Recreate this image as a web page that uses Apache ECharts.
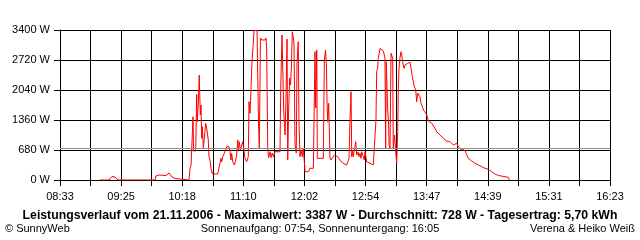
<!DOCTYPE html>
<html><head><meta charset="utf-8">
<script src="https://cdn.jsdelivr.net/npm/echarts@6/dist/echarts.min.js"></script>
<style>html,body{margin:0;padding:0;background:#fff}#c{width:640px;height:240px}</style>
</head><body><div id="c"></div>
<script>
// x tick labels (every second grid line)
const xTickLabels = ['08:33','09:25','10:18','11:10','12:02','12:54','13:47','14:39','15:31','16:23'];
const startMinute = 513;   // 08:33 as minute of day
const endMinute = 983;     // 16:23
const xGridSteps = 18;
const yMax = 3400;
const yStep = 680;
const averageW = 728;

// time of each reading (minute of day) and power in W
const times = [547.2,554.9,555.7,557.4,560.0,561.7,562.6,594.2,595.0,595.9,597.6,599.3,603.6,606.2,608.7,611.3,613.0,
623.2,624.1,625.0,625.8,626.7,627.1,629.0,629.8,630.3,631.2,632.0,632.9,633.5,634.1,634.6,635.5,636.3,637.5,638.6,639.7,
640.3,641.2,642.0,643.2,647.8,648.3,649.7,650.6,651.2,652.0,653.4,655.5,657.4,658.3,659.1,659.7,660.6,662.0,663.1,664.0,
664.9,665.4,666.2,667.1,668.3,669.1,670.0,671.1,672.5,673.9,674.5,675.4,676.2,677.1,677.9,678.8,681.4,681.8,682.6,683.3,
684.3,685.6,687.3,688.2,689.0,689.6,690.5,691.2,692.5,693.3,694.4,695.3,696.7,701.0,701.6,702.7,704.2,705.3,706.1,707.0,
707.6,708.4,709.3,710.0,710.8,711.5,712.4,713.0,713.8,714.9,715.5,716.6,717.2,718.1,719.0,720.1,720.9,721.8,722.4,725.2,
726.6,729.5,730.3,730.9,731.5,732.4,732.9,738.0,738.9,739.9,740.7,741.2,741.8,742.6,743.1,743.7,744.6,745.7,747.4,748.9,
750.3,752.3,753.7,754.8,758.0,758.9,760.0,760.8,761.7,762.3,762.8,763.6,764.5,765.7,766.6,767.7,768.5,769.4,770.2,770.8,
772.2,773.0,773.6,775.1,776.5,777.9,779.4,780.7,782.2,783.0,783.6,784.5,785.0,785.9,786.5,787.9,789.3,789.9,790.7,791.3,
791.8,793.0,793.7,794.2,795.0,795.9,797.3,797.8,798.9,799.7,800.7,801.6,802.1,802.7,803.5,804.4,805.0,805.5,806.4,807.0,
807.8,809.3,810.1,812.1,813.0,814.1,814.9,815.8,817.0,817.8,818.7,819.8,820.6,821.5,822.6,823.5,824.9,826.4,827.7,829.2,
830.6,832.0,833.5,834.9,836.3,837.7,839.2,840.6,842.0,843.5,846.3,847.7,849.1,850.6,852.0,853.4,854.8,857.1,859.1,860.6,
861.9,863.4,864.8,866.2,867.6,869.1,870.5,871.9,873.4,874.7,876.2,877.6,879.0,880.5,881.9,883.3,884.7,886.2,887.6,889.0,
896.1,897.0];
const watts = [0,0,45,79,68,34,0,0,91,136,113,102,102,159,68,34,0,
0,265,340,868,1435,657,657,1943,1321,1739,2380,1473,1700,945,1208,719,719,1285,1133,907,
528,453,265,136,136,170,379,492,415,528,605,755,755,641,453,605,415,340,453,567,
907,680,868,680,680,868,719,492,415,528,1775,1512,2040,2720,2992,3387,3387,2652,1360,725,
3219,3173,3128,3173,3219,2992,725,505,641,505,612,528,641,641,2040,3287,1548,1020,1813,3196,
453,1632,2312,2153,2607,3361,3219,3060,816,612,2607,3135,1321,528,680,528,725,415,188,188,
265,265,301,2908,1632,2947,492,492,2720,2947,2584,1775,1321,1739,1179,499,453,431,567,605,
528,453,431,379,340,415,492,1360,2001,528,680,528,567,868,567,635,528,605,492,641,
528,453,641,415,453,379,379,340,340,1360,2455,2532,2759,2795,2985,2969,2924,2856,2765,725,
2681,1587,1337,793,719,2872,2759,719,1020,719,379,1095,2079,2532,2759,2908,2833,2759,2584,2532,
2607,2568,2645,2668,2532,2341,2228,2115,2040,1775,1965,1927,1888,1739,1662,1587,1535,1473,1337,1308,
1285,1247,1172,1095,1059,1020,981,945,907,884,868,832,793,777,832,755,703,696,664,641,
492,453,431,401,379,356,340,317,301,279,265,249,243,227,188,175,136,113,102,68,
61,0];

const titleText = 'Leistungsverlauf vom 21.11.2006 - Maximalwert: 3387 W - Durchschnitt: 728 W - Tagesertrag: 5,70 kWh';
const footLeft = '\u00A9 SunnyWeb';
const footMid = 'Sonnenaufgang: 07:54, Sonnenuntergang: 16:05';
const footRight = 'Verena & Heiko Wei\u00DF';

const FONT = '"Liberation Sans", Arial, sans-serif';
const xSpan = endMinute - startMinute;
const xStep = xSpan / xGridSteps;
const seriesData = times.map((t, i) => [t - startMinute, watts[i]]);

const chart = echarts.init(document.getElementById('c'), null, {renderer: 'canvas'});
chart.setOption({
  animation: false,
  backgroundColor: '#ffffff',
  grid: {left: 60, top: 30, width: 550, height: 150, containLabel: false},
  xAxis: {
    type: 'value', min: 0, max: xSpan, interval: xStep,
    axisLine: {show: true, lineStyle: {color: '#000', width: 1}},
    axisTick: {show: true, length: 6, lineStyle: {color: '#000', width: 1}},
    splitLine: {show: true, lineStyle: {color: '#000', width: 1}},
    axisLabel: {
      margin: 11, color: '#000', fontSize: 11, fontFamily: FONT,
      formatter: function (v) {
        const k = Math.round(v / xStep);
        return k % 2 === 0 ? (xTickLabels[k / 2] || '') : '';
      }
    }
  },
  yAxis: {
    type: 'value', min: 0, max: yMax, interval: yStep,
    axisLine: {show: true, lineStyle: {color: '#000', width: 1}},
    axisTick: {show: true, length: 6, lineStyle: {color: '#000', width: 1}},
    splitLine: {show: true, lineStyle: {color: '#000', width: 1}},
    axisLabel: {margin: 10, color: '#000', fontSize: 11, fontFamily: FONT,
      formatter: function (v) { return Math.round(v) + ' W'; }}
  },
  series: [{
    type: 'line', data: seriesData, showSymbol: false, symbol: 'none',
    lineStyle: {color: '#ff0000', width: 1}, silent: true,
    markLine: {
      silent: true, symbol: ['none', 'none'], label: {show: false},
      lineStyle: {color: '#8c8c8c', width: 1, type: 'solid'},
      data: [{yAxis: averageW}]
    }
  }],
  graphic: [
    {type: 'text', x: 320, y: 216, style: {text: titleText, fontSize: 12.25, fontWeight: 'bold', fontFamily: FONT, fill: '#000', align: 'center', verticalAlign: 'middle'}},
    {type: 'text', x: 5, y: 229, style: {text: footLeft, fontSize: 11, fontFamily: FONT, fill: '#000', align: 'left', verticalAlign: 'middle'}},
    {type: 'text', x: 320, y: 229, style: {text: footMid, fontSize: 11, fontFamily: FONT, fill: '#000', align: 'center', verticalAlign: 'middle'}},
    {type: 'text', x: 635, y: 229, style: {text: footRight, fontSize: 11, fontFamily: FONT, fill: '#000', align: 'right', verticalAlign: 'middle'}}
  ]
});
</script>
</body></html>
